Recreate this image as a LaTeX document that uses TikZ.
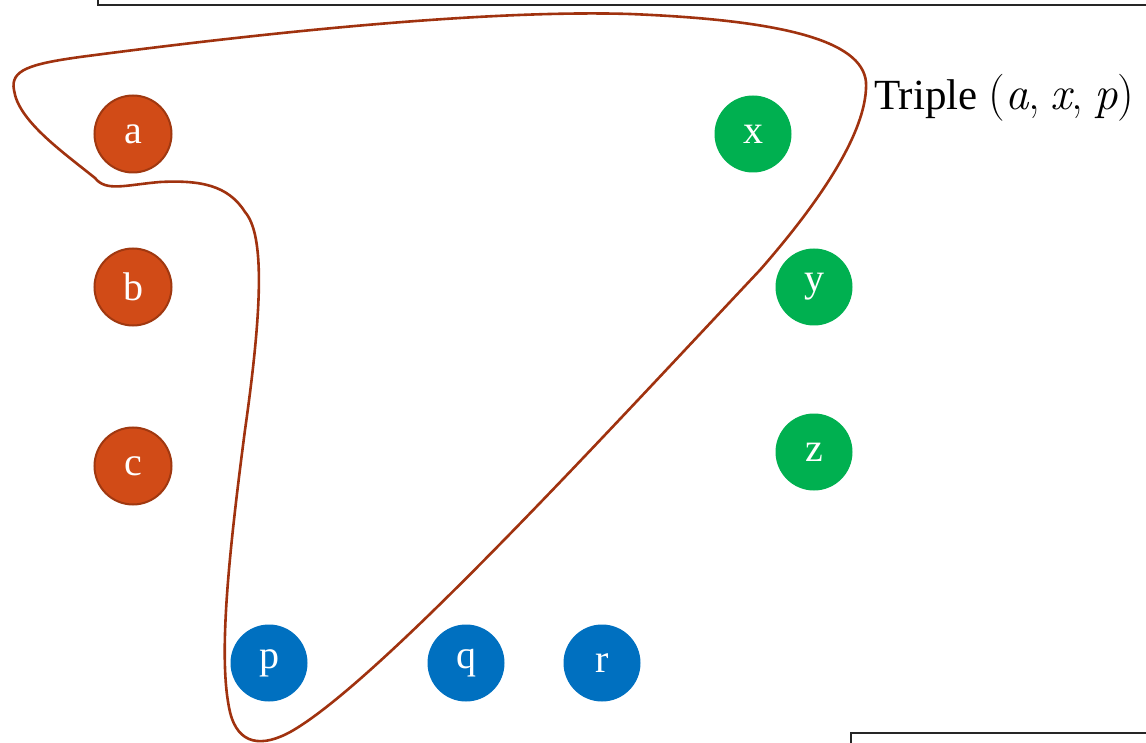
\documentclass[tikz,border=0pt]{standalone}
\usepackage{fontspec}
\setmainfont{Liberation Serif}
\newfontfamily\lmrfont{Latin Modern Roman}
\definecolor{orfill}{RGB}{209,75,23}
\definecolor{ordraw}{RGB}{160,56,16}
\definecolor{curvec}{RGB}{160,50,15}
\definecolor{grn}{RGB}{0,176,80}
\definecolor{blu}{RGB}{0,112,192}
\tikzset{
  vtx/.style={circle, minimum size=77pt, inner sep=0pt, text=white,
    font=\fontsize{40}{46}\selectfont},
  orv/.style={vtx, fill=orfill, draw=ordraw, line width=2pt},
  grv/.style={vtx, fill=grn},
  blv/.style={vtx, fill=blu},
  frame/.style={draw=black!85, line width=2pt},
  hyper/.style={draw=curvec, line width=2.6pt}
}
\begin{document}
\begin{tikzpicture}[x=1pt,y=-1pt]
\useasboundingbox (0,0) rectangle (1146,743);
\draw[frame] (98,-20) rectangle (1170,5);
\draw[frame] (851,733) rectangle (1170,770);
\node[orv] (a) at (133,134) {a};
\node[orv] (b) at (133,287) {b};
\node[orv] (c) at (133,466) {c};
\node[grv] (x) at (753,134) {x};
\node[grv] (y) at (814,287) {y};
\node[grv] (z) at (814,452) {z};
\node[blv] (p) at (269,663) {p};
\node[blv] (q) at (466,663) {q};
\node[blv] (r) at (602,663) {r};
\draw[hyper] (14,90)
  .. controls (10,70) and (30,64) .. (80,57)
  .. controls (300,28) and (500,10) .. (630,14)
  .. controls (780,20) and (862,40) .. (866,82)
  .. controls (868,125) and (830,190) .. (760,270)
  .. controls (600,440) and (380,680) .. (292,731)
  .. controls (262,748) and (238,745) .. (230,712)
  .. controls (218,660) and (228,560) .. (245,430)
  .. controls (262,310) and (265,235) .. (245,212)
  .. controls (228,185) and (200,180) .. (160,182)
  .. controls (125,185) and (106,192) .. (95,178)
  .. controls (60,150) and (18,120) .. cycle;
\node[anchor=base west, inner sep=0pt, font=\fontsize{43}{48}\selectfont] (lbl) at (874,110) {Triple {\fontsize{47}{50}\selectfont\lmrfont(\textit{a},\:\textit{x},\:\textit{p})}};
\end{tikzpicture}
\end{document}
